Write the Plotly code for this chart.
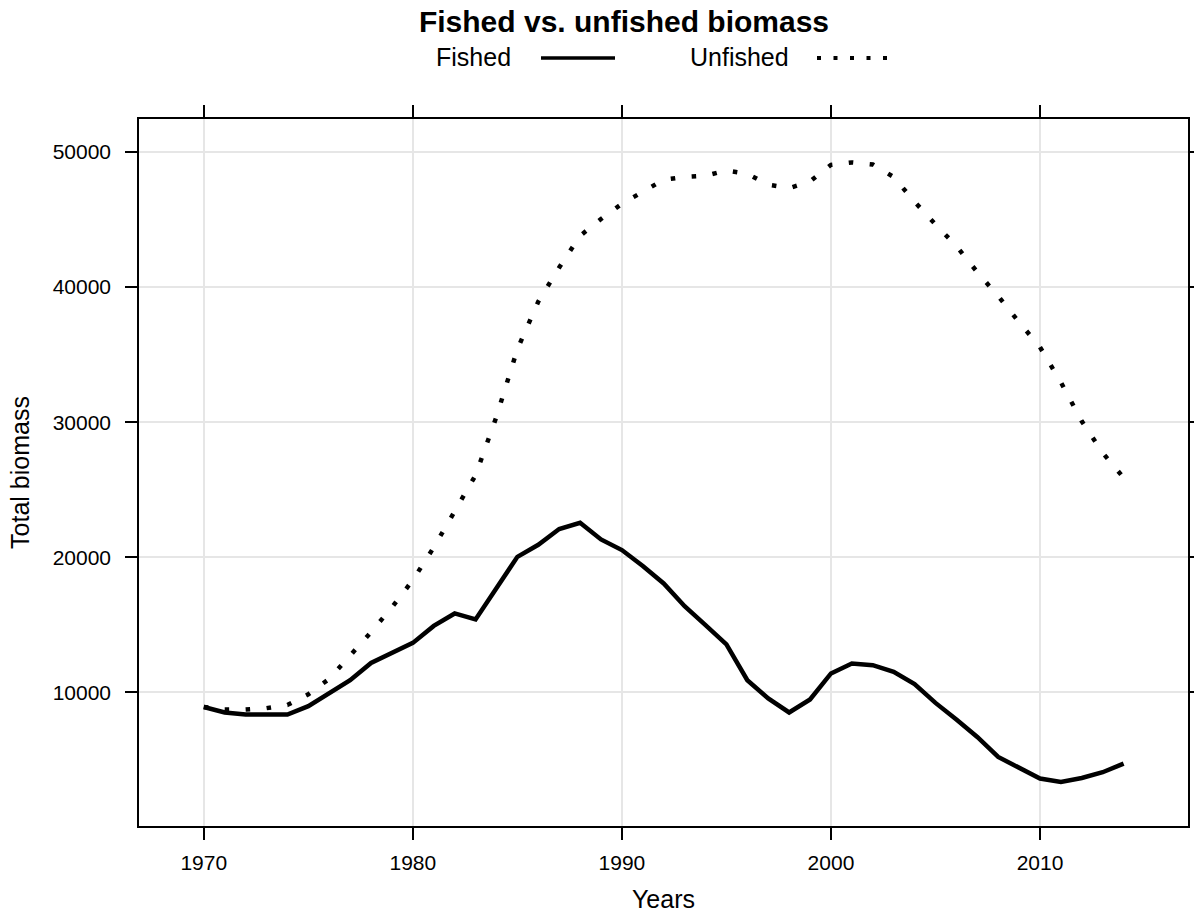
import plotly.graph_objects as go

# Total biomass by year, fished and unfished scenarios
years = list(range(1970, 2015))
fished = [8930, 8520, 8370, 8370, 8370, 8990, 9930, 10910, 12190, 12930,
          13670, 14930, 15850, 15410, 17700, 20040, 20930, 22100, 22560, 21330,
          20540, 19360, 18070, 16390, 14990, 13560, 10910, 9560, 8520, 9480,
          11410, 12150, 12020, 11530, 10620, 9230, 8000, 6710, 5230, 4440,
          3630, 3380, 3670, 4100, 4740]
unfished = [8930, 8740, 8740, 8840, 9080, 9870, 11010, 12690, 14470, 16300,
            18320, 20740, 23380, 26080, 30420, 35410, 38930, 41450, 43800, 45040,
            46170, 47060, 47950, 48150, 48240, 48640, 48390, 47580, 47330, 47820,
            49050, 49230, 49080, 48150, 46320, 44640, 43040, 41110, 39330, 37410,
            35560, 32960, 30070, 27730, 25900]

x_ticks = [1970, 1980, 1990, 2000, 2010]
y_ticks = [10000, 20000, 30000, 40000, 50000]

FONT = "Liberation Sans, Arial, Helvetica, sans-serif"
W, H = 1194, 917
ML, MR, MT, MB = 139, 6, 119, 91
PW, PH = W - ML - MR, H - MT - MB

fig = go.Figure()
fig.add_trace(go.Scatter(x=years, y=unfished, mode="lines", name="Unfished",
                         line=dict(color="black", width=4.5, dash="4.5px,16.5px"),
                         showlegend=False))
fig.add_trace(go.Scatter(x=years, y=fished, mode="lines", name="Fished",
                         line=dict(color="black", width=4.5),
                         showlegend=False))

axis_common = dict(
    showline=True, linecolor="black", linewidth=1.5, mirror="ticks",
    ticks="outside", ticklen=12, tickwidth=1.5, tickcolor="black",
    showgrid=True, gridcolor="#e6e6e6", gridwidth=1.5, zeroline=False,
    automargin=False,
    tickfont=dict(family=FONT, size=21, color="black"),
)

fig.update_xaxes(range=[1966.9, 2017.08], tickvals=x_ticks,
                 ticktext=[str(v) for v in x_ticks], ticklabelstandoff=5,
                 title=dict(text="Years", standoff=18,
                            font=dict(family=FONT, size=25, color="black")),
                 **axis_common)
fig.update_yaxes(range=[119, 52444], tickvals=y_ticks,
                 ticktext=[str(v) for v in y_ticks], ticklabelstandoff=10,
                 title=dict(text="Total biomass", standoff=16,
                            font=dict(family=FONT, size=25, color="black")),
                 **axis_common)


# Convert page pixel positions to paper coordinates of the plot area
def px_x(p):
    return (p - ML) / PW


def px_y(p):
    return (H - MB - p) / PH


# Legend keys drawn across the top, text before each line sample
annotations = [
    dict(text="Fished", x=px_x(513), y=px_y(57), xref="paper", yref="paper",
         xanchor="right", yanchor="middle", showarrow=False,
         font=dict(family=FONT, size=25, color="black")),
    dict(text="Unfished", x=px_x(791), y=px_y(57), xref="paper", yref="paper",
         xanchor="right", yanchor="middle", showarrow=False,
         font=dict(family=FONT, size=25, color="black")),
]
shapes = [
    dict(type="line", xref="paper", yref="paper",
         x0=px_x(541), x1=px_x(615), y0=px_y(58), y1=px_y(58),
         line=dict(color="black", width=3.5)),
    dict(type="line", xref="paper", yref="paper",
         x0=px_x(817), x1=px_x(887), y0=px_y(58), y1=px_y(58),
         line=dict(color="black", width=4, dash="4px,12.5px")),
]

fig.update_layout(
    width=W, height=H,
    margin=dict(l=ML, r=MR, t=MT, b=MB, autoexpand=False),
    paper_bgcolor="white", plot_bgcolor="white",
    title=dict(text="<b>Fished vs. unfished biomass</b>",
               x=624 / W, xref="container", xanchor="center",
               y=1 - 21 / H, yref="container", yanchor="middle",
               font=dict(family=FONT, size=30, color="black")),
    annotations=annotations, shapes=shapes,
    showlegend=False,
)

fig.write_html("out.html")
